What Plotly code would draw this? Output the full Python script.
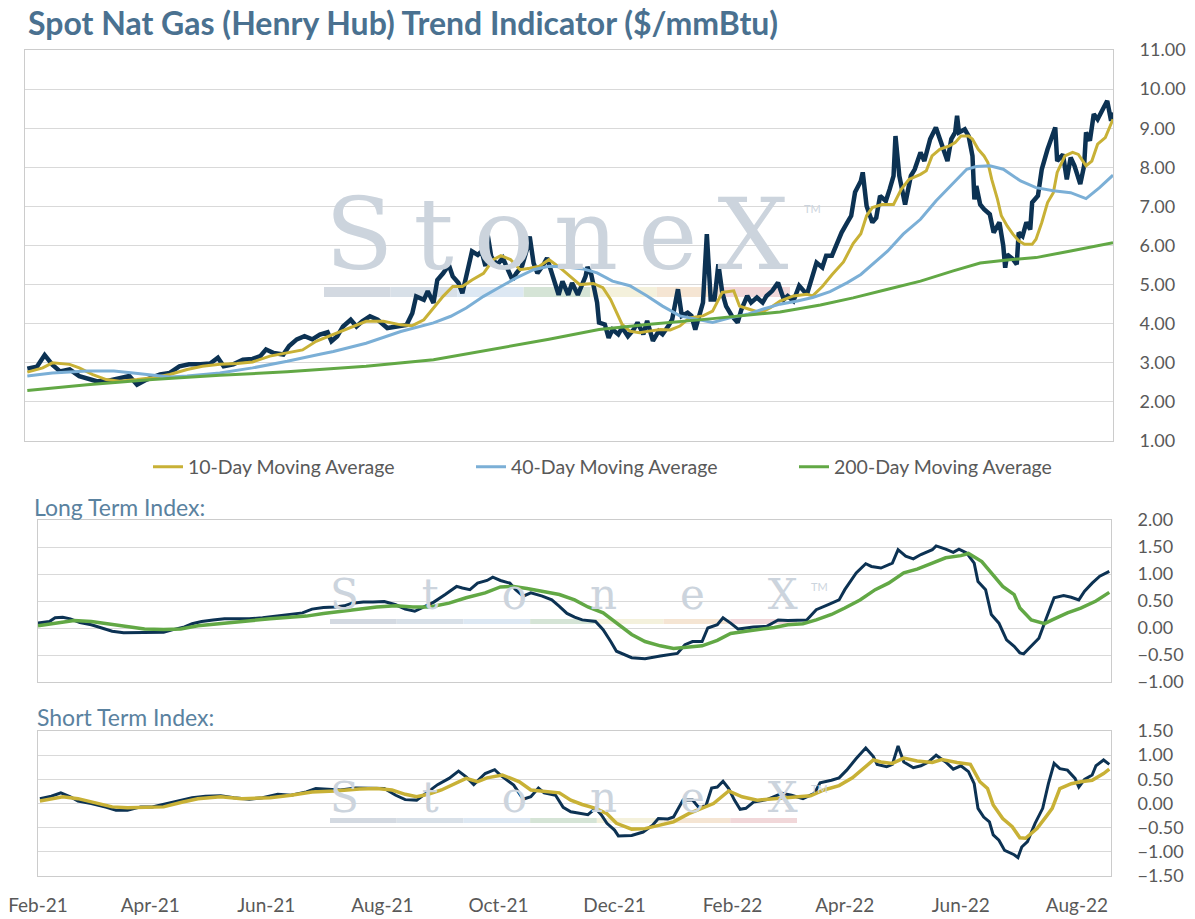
import pandas as pd
import plotly.graph_objects as go

# all x values are days counted from 1 Feb 2021
START = pd.Timestamp("2021-02-01")

tick_dates = ["2021-02-01", "2021-04-01", "2021-06-01", "2021-08-01", "2021-10-01",
              "2021-12-01", "2022-02-01", "2022-04-01", "2022-06-01", "2022-08-01"]
tick_labels = ["Feb-21", "Apr-21", "Jun-21", "Aug-21", "Oct-21",
               "Dec-21", "Feb-22", "Apr-22", "Jun-22", "Aug-22"]

# Spot Henry Hub price ($/mmBtu)
spot_days = [-5, 0, 4, 8, 12, 17, 22, 28, 31, 36,
             43, 48, 52, 57, 64, 69, 74, 79, 85, 90,
             94, 97, 102, 107, 112, 116, 119, 123, 128, 131,
             135, 139, 143, 147, 151, 153, 156, 159, 163, 166,
             169, 173, 177, 182, 187, 192, 195, 197, 201, 203,
             206, 208, 211, 214, 216, 219, 221, 224, 226, 229,
             231, 233, 234, 236, 239, 242, 244, 247, 249, 252,
             255, 256, 258, 260, 263, 265, 268, 271, 273, 276,
             278, 281, 285, 286, 288, 291, 292, 295, 297, 299,
             302, 304, 307, 310, 312, 315, 317, 320, 323, 325,
             328, 330, 333, 335, 338, 340, 342, 344, 346, 348,
             350, 352, 354, 356, 358, 361, 364, 366, 369, 371,
             374, 377, 379, 382, 385, 388, 390, 393, 396, 400,
             403, 405, 408, 410, 413, 416, 418, 421, 423, 425,
             428, 429, 431, 434, 436, 438, 441, 443, 445, 446,
             448, 451, 454, 456, 459, 461, 464, 467, 469, 472,
             473, 475, 477, 478, 479, 482, 484, 486, 487, 488,
             490, 492, 495, 497, 499, 500, 502, 503, 504, 507,
             509, 510, 512, 514, 516, 517, 520, 522, 525, 527,
             529, 530, 533, 535, 537, 539, 542, 544, 545, 547,
             549, 551, 554, 556, 558, 559]
spot_price = [2.85, 2.90, 3.20, 2.95, 2.78, 2.83, 2.66, 2.57, 2.53, 2.53,
              2.59, 2.66, 2.44, 2.57, 2.70, 2.74, 2.91, 2.96, 2.96, 2.98,
              3.13, 2.91, 2.96, 3.08, 3.10, 3.17, 3.34, 3.25, 3.21, 3.43,
              3.60, 3.68, 3.60, 3.72, 3.78, 3.55, 3.68, 3.93, 4.10, 3.93,
              4.06, 4.19, 4.10, 3.89, 3.93, 3.97, 4.27, 4.70, 4.61, 4.83,
              4.53, 5.12, 5.29, 5.50, 5.21, 5.04, 4.78, 5.38, 5.85, 5.76,
              5.85, 5.47, 6.32, 5.72, 5.50, 5.68, 5.47, 5.12, 5.29, 5.47,
              5.98, 6.23, 5.55, 5.29, 5.50, 5.68, 5.21, 4.74, 5.08, 4.74,
              5.04, 4.74, 5.21, 5.45, 5.25, 4.54, 4.03, 3.98, 3.64, 3.85,
              3.73, 3.90, 3.68, 3.85, 4.03, 3.73, 4.07, 3.56, 3.81, 3.73,
              3.94, 4.11, 4.88, 4.20, 4.28, 4.20, 3.85, 4.20, 4.54, 6.29,
              4.62, 4.62, 5.52, 4.80, 4.45, 4.20, 4.03, 4.37, 4.71, 4.54,
              4.67, 4.54, 4.71, 4.84, 5.05, 4.62, 4.71, 4.58, 4.97, 4.75,
              5.22, 5.56, 5.44, 5.74, 5.74, 6.08, 6.33, 6.59, 6.76, 7.36,
              7.65, 7.87, 7.01, 6.59, 6.71, 7.27, 7.14, 7.44, 7.78, 8.80,
              7.78, 7.05, 7.78, 7.95, 8.38, 8.16, 8.72, 9.02, 8.72, 8.33,
              8.16, 8.72, 8.89, 9.32, 8.89, 8.97, 8.80, 8.29, 7.18, 7.52,
              7.05, 6.93, 6.80, 6.33, 6.50, 6.59, 5.99, 5.43, 5.77, 5.65,
              5.52, 6.33, 6.24, 6.59, 6.41, 7.10, 7.27, 7.95, 8.46, 8.72,
              9.02, 8.16, 8.33, 7.69, 8.25, 8.04, 7.57, 8.04, 8.89, 8.68,
              9.36, 9.23, 9.49, 9.70, 9.19, 9.40]

ma10_days = [-5, 3, 8, 17, 22, 29, 36, 43, 52, 60,
             69, 78, 86, 95, 104, 112, 121, 130, 138, 145,
             154, 163, 171, 180, 189, 195, 201, 206, 211, 216,
             221, 226, 232, 237, 241, 246, 251, 256, 261, 266,
             272, 277, 282, 289, 294, 298, 301, 304, 308, 313,
             318, 324, 329, 334, 339, 346, 351, 356, 362, 365,
             370, 376, 381, 386, 393, 400, 403, 408, 413, 419,
             424, 428, 431, 434, 439, 445, 449, 453, 459, 462,
             465, 469, 474, 477, 480, 484, 486, 489, 492, 494,
             496, 499, 501, 504, 507, 510, 513, 517, 519, 522,
             525, 528, 530, 534, 538, 541, 545, 548, 551, 555,
             559]
ma10 = [2.76, 2.87, 3.00, 2.96, 2.87, 2.70, 2.57, 2.53, 2.57, 2.62,
        2.70, 2.83, 2.91, 2.96, 2.98, 3.02, 3.17, 3.25, 3.33, 3.55,
        3.72, 3.89, 4.06, 4.06, 3.97, 3.95, 4.10, 4.40, 4.70, 4.95,
        4.95, 5.12, 5.29, 5.64, 5.74, 5.64, 5.38, 5.42, 5.47, 5.64,
        5.42, 5.21, 5.00, 5.03, 4.92, 4.62, 4.28, 3.98, 3.81, 3.77,
        3.81, 3.85, 3.84, 3.94, 4.15, 4.20, 4.32, 4.80, 4.84, 4.45,
        4.37, 4.28, 4.41, 4.58, 4.71, 4.75, 4.71, 4.95, 5.25, 5.58,
        6.05, 6.30, 6.76, 6.97, 7.05, 7.05, 7.44, 7.69, 7.82, 7.91,
        8.29, 8.46, 8.55, 8.63, 8.80, 8.80, 8.72, 8.46, 8.29, 8.12,
        7.69, 7.18, 6.76, 6.50, 6.29, 6.12, 6.03, 6.03, 6.16, 6.59,
        7.10, 7.35, 7.87, 8.29, 8.38, 8.33, 8.04, 8.16, 8.59, 8.76,
        9.23]

ma40_days = [-5, 8, 26, 40, 50, 60, 69, 78, 95, 112,
             130, 147, 154, 171, 189, 206, 215, 223, 232, 241,
             249, 258, 266, 275, 284, 291, 299, 308, 317, 325,
             334, 343, 351, 360, 369, 377, 386, 395, 403, 412,
             421, 428, 433, 442, 450, 459, 467, 476, 483, 488,
             495, 502, 511, 519, 528, 537, 545, 552, 559]
ma40 = [2.66, 2.74, 2.79, 2.79, 2.74, 2.68, 2.64, 2.66, 2.74, 2.87,
        3.04, 3.22, 3.29, 3.50, 3.80, 4.02, 4.19, 4.40, 4.70, 4.95,
        5.17, 5.38, 5.47, 5.45, 5.40, 5.30, 5.09, 4.97, 4.71, 4.45,
        4.20, 4.11, 4.03, 4.15, 4.24, 4.37, 4.50, 4.58, 4.67, 4.82,
        5.05, 5.26, 5.47, 5.86, 6.29, 6.67, 7.14, 7.61, 7.95, 8.02,
        8.04, 7.95, 7.65, 7.48, 7.40, 7.35, 7.20, 7.48, 7.80]

ma200_days = [-5, 26, 60, 95, 130, 171, 206, 241, 266, 292,
              317, 351, 386, 407, 424, 442, 459, 476, 490, 504,
              519, 537, 559]
ma200 = [2.29, 2.44, 2.57, 2.68, 2.77, 2.91, 3.08, 3.38, 3.60, 3.85,
         3.98, 4.13, 4.30, 4.48, 4.66, 4.88, 5.09, 5.35, 5.55, 5.63,
         5.69, 5.86, 6.07]

# Long Term Index
lt_days = [0, 6, 9, 13, 17, 22, 28, 34, 39, 45,
           51, 56, 62, 66, 71, 77, 81, 86, 92, 98,
           103, 111, 118, 126, 133, 139, 144, 150, 156, 161,
           165, 171, 176, 182, 188, 193, 198, 203, 208, 214,
           220, 223, 227, 231, 236, 239, 243, 248, 251, 255,
           259, 265, 270, 274, 278, 282, 286, 293, 297, 301,
           304, 312, 319, 327, 336, 340, 344, 349, 352, 357,
           360, 364, 368, 376, 383, 389, 394, 404, 409, 415,
           421, 424, 430, 435, 438, 443, 449, 452, 456, 460,
           464, 470, 472, 477, 481, 484, 488, 492, 494, 498,
           501, 505, 509, 513, 516, 518, 522, 526, 530, 534,
           539, 543, 547, 550, 554, 558, 563]
lt_index = [0.09, 0.12, 0.19, 0.20, 0.17, 0.10, 0.06, 0.00, -0.06, -0.09,
            -0.09, -0.08, -0.09, -0.08, -0.03, 0.02, 0.08, 0.12, 0.15, 0.17,
            0.17, 0.17, 0.19, 0.22, 0.25, 0.28, 0.35, 0.38, 0.39, 0.41,
            0.46, 0.48, 0.48, 0.49, 0.43, 0.35, 0.31, 0.39, 0.48, 0.62,
            0.77, 0.74, 0.71, 0.83, 0.88, 0.94, 0.88, 0.83, 0.71, 0.59,
            0.65, 0.59, 0.52, 0.40, 0.27, 0.20, 0.15, 0.12, -0.03, -0.25,
            -0.43, -0.55, -0.57, -0.52, -0.47, -0.31, -0.25, -0.25, 0.00, 0.06,
            0.19, 0.09, -0.02, 0.02, 0.03, 0.15, 0.14, 0.15, 0.34, 0.43,
            0.52, 0.71, 1.02, 1.19, 1.14, 1.11, 1.20, 1.45, 1.33, 1.28,
            1.36, 1.45, 1.52, 1.46, 1.40, 1.46, 1.39, 1.20, 0.86, 0.71,
            0.25, 0.09, -0.22, -0.34, -0.46, -0.48, -0.34, -0.19, 0.19, 0.56,
            0.60, 0.57, 0.52, 0.68, 0.83, 0.96, 1.05]

lt_avg_days = [0, 9, 19, 28, 37, 47, 56, 66, 75, 84,
               94, 103, 113, 122, 131, 141, 150, 159, 169, 178,
               188, 197, 206, 216, 225, 235, 243, 250, 257, 266,
               274, 282, 289, 297, 304, 312, 319, 327, 334, 342,
               349, 357, 364, 372, 379, 387, 394, 402, 409, 417,
               424, 432, 440, 447, 455, 462, 470, 477, 485, 489,
               496, 501, 507, 513, 516, 522, 529, 533, 541, 548,
               556, 563]
lt_avg = [0.04, 0.09, 0.14, 0.12, 0.08, 0.02, -0.02, -0.03, -0.02, 0.04,
          0.08, 0.11, 0.14, 0.17, 0.19, 0.22, 0.27, 0.31, 0.35, 0.39,
          0.41, 0.39, 0.39, 0.46, 0.56, 0.65, 0.76, 0.77, 0.73, 0.68,
          0.62, 0.52, 0.39, 0.28, 0.09, -0.12, -0.25, -0.33, -0.38, -0.36,
          -0.33, -0.23, -0.10, -0.06, -0.03, 0.01, 0.06, 0.08, 0.15, 0.25,
          0.37, 0.52, 0.71, 0.83, 1.02, 1.09, 1.20, 1.30, 1.34, 1.38,
          1.23, 1.02, 0.77, 0.62, 0.37, 0.15, 0.08, 0.15, 0.28, 0.37,
          0.50, 0.66]

# Short Term Index
st_days = [1, 7, 12, 17, 21, 28, 36, 41, 47, 54,
           60, 66, 73, 81, 88, 96, 103, 111, 118, 126,
           133, 141, 146, 154, 159, 167, 175, 182, 188, 193,
           199, 205, 210, 216, 221, 225, 229, 235, 240, 243,
           250, 255, 259, 263, 266, 272, 276, 280, 286, 289,
           293, 296, 299, 303, 305, 312, 318, 323, 326, 331,
           334, 339, 344, 347, 351, 354, 357, 360, 363, 366,
           369, 372, 376, 383, 391, 396, 402, 408, 411, 417,
           421, 425, 430, 435, 439, 441, 446, 449, 452, 455,
           460, 464, 468, 472, 477, 481, 485, 489, 492, 494,
           497, 500, 502, 505, 508, 513, 515, 517, 520, 524,
           528, 531, 534, 537, 541, 545, 547, 550, 554, 556,
           560, 563]
st_index = [0.10, 0.15, 0.22, 0.14, 0.05, 0.00, -0.08, -0.14, -0.14, -0.07,
            -0.07, -0.02, 0.05, 0.12, 0.15, 0.16, 0.12, 0.09, 0.12, 0.19,
            0.17, 0.24, 0.31, 0.29, 0.28, 0.32, 0.31, 0.31, 0.17, 0.08,
            0.07, 0.24, 0.39, 0.52, 0.67, 0.55, 0.39, 0.62, 0.70, 0.59,
            0.38, 0.09, 0.14, 0.32, 0.22, 0.17, -0.08, -0.17, -0.22, -0.23,
            -0.10, -0.23, -0.41, -0.55, -0.67, -0.66, -0.59, -0.45, -0.31, -0.32,
            -0.28, 0.07, 0.07, -0.07, -0.05, 0.32, 0.34, 0.46, 0.31, 0.07,
            -0.12, -0.10, 0.03, 0.08, 0.21, 0.17, 0.10, 0.21, 0.43, 0.48,
            0.53, 0.69, 0.93, 1.15, 0.97, 0.81, 0.76, 0.81, 1.19, 0.86,
            0.74, 0.78, 0.86, 1.00, 0.86, 0.71, 0.78, 0.66, 0.41, -0.10,
            -0.28, -0.38, -0.65, -0.76, -0.97, -1.06, -1.12, -0.90, -0.79, -0.41,
            -0.10, 0.41, 0.83, 0.72, 0.69, 0.52, 0.34, 0.50, 0.59, 0.78,
            0.90, 0.81]

st_avg_days = [1, 13, 21, 28, 39, 47, 56, 66, 75, 84,
               96, 107, 122, 133, 144, 156, 169, 178, 186, 193,
               199, 205, 212, 220, 225, 231, 236, 244, 253, 259,
               266, 274, 280, 286, 293, 299, 304, 312, 319, 327,
               334, 342, 349, 355, 363, 370, 378, 387, 396, 406,
               413, 421, 428, 434, 439, 443, 449, 455, 462, 470,
               475, 483, 490, 495, 499, 502, 507, 512, 516, 519,
               525, 530, 533, 537, 543, 548, 554, 560, 563]
st_avg = [0.05, 0.14, 0.10, 0.03, -0.07, -0.09, -0.08, -0.07, 0.02, 0.10,
          0.14, 0.10, 0.12, 0.17, 0.24, 0.26, 0.30, 0.31, 0.28, 0.19,
          0.14, 0.19, 0.28, 0.43, 0.52, 0.45, 0.53, 0.59, 0.45, 0.28,
          0.26, 0.22, 0.07, -0.02, -0.10, -0.21, -0.41, -0.53, -0.52, -0.45,
          -0.38, -0.21, -0.10, 0.00, 0.26, 0.14, 0.07, 0.10, 0.14, 0.16,
          0.28, 0.37, 0.53, 0.74, 0.90, 0.86, 0.83, 0.94, 0.88, 0.85,
          0.91, 0.85, 0.81, 0.45, 0.31, -0.03, -0.31, -0.48, -0.71, -0.72,
          -0.52, -0.26, -0.10, 0.31, 0.41, 0.45, 0.48, 0.62, 0.71]

NAVY = "#0c3253"
GOLD = "#c8b136"
BLUE = "#7bafd6"
GREEN = "#62a845"
FONT = "Lato, sans-serif"
TXT = "#595959"
W, H = 1195, 919


def to_dates(days):
    return START + pd.to_timedelta(days, unit="D")


fig = go.Figure()

# top panel
fig.add_trace(go.Scatter(x=to_dates(spot_days), y=spot_price, mode="lines", name="Spot",
                         line=dict(color=NAVY, width=4.5), showlegend=False, xaxis="x", yaxis="y"))
fig.add_trace(go.Scatter(x=to_dates(ma10_days), y=ma10, mode="lines", name="10-Day Moving Average",
                         line=dict(color=GOLD, width=3), xaxis="x", yaxis="y"))
fig.add_trace(go.Scatter(x=to_dates(ma40_days), y=ma40, mode="lines", name="40-Day Moving Average",
                         line=dict(color=BLUE, width=3), xaxis="x", yaxis="y"))
fig.add_trace(go.Scatter(x=to_dates(ma200_days), y=ma200, mode="lines", name="200-Day Moving Average",
                         line=dict(color=GREEN, width=3), xaxis="x", yaxis="y"))

# long term panel
fig.add_trace(go.Scatter(x=to_dates(lt_days), y=lt_index, mode="lines", showlegend=False,
                         line=dict(color=NAVY, width=3), xaxis="x2", yaxis="y2"))
fig.add_trace(go.Scatter(x=to_dates(lt_avg_days), y=lt_avg, mode="lines", showlegend=False,
                         line=dict(color=GREEN, width=3.5), xaxis="x2", yaxis="y2"))

# short term panel
fig.add_trace(go.Scatter(x=to_dates(st_days), y=st_index, mode="lines", showlegend=False,
                         line=dict(color=NAVY, width=3), xaxis="x3", yaxis="y3"))
fig.add_trace(go.Scatter(x=to_dates(st_avg_days), y=st_avg, mode="lines", showlegend=False,
                         line=dict(color=GOLD, width=3.5), xaxis="x3", yaxis="y3"))

frame = dict(showline=True, mirror=True, linecolor="#cccccc", linewidth=1, zeroline=False)
yfmt = dict(side="right", tickformat=".2f", gridcolor="#d9d9d9", gridwidth=1, ticks="",
            tickfont=dict(family=FONT, size=18, color=TXT), ticklabelstandoff=22, **frame)
low_range = [to_dates(0), to_dates(563.9)]

fig.update_layout(
    width=W, height=H,
    template="none",
    margin=dict(l=0, r=0, t=0, b=0),
    paper_bgcolor="white", plot_bgcolor="white",
    xaxis=dict(domain=[25 / W, 1113 / W], anchor="y", range=[to_dates(-6.2), to_dates(559)],
               showticklabels=False, showgrid=False, ticks="", **frame),
    yaxis=dict(domain=[1 - 441 / H, 1 - 50 / H], anchor="x", range=[1, 11], dtick=1, **yfmt),
    xaxis2=dict(domain=[38 / W, 1111 / W], anchor="y2", range=low_range,
                showticklabels=False, showgrid=False, ticks="", **frame),
    yaxis2=dict(domain=[1 - 682 / H, 1 - 520 / H], anchor="x2", range=[-1, 2], dtick=0.5, **yfmt),
    xaxis3=dict(domain=[38 / W, 1111 / W], anchor="y3", range=low_range,
                tickvals=tick_dates, ticktext=tick_labels, showgrid=False, ticks="",
                tickfont=dict(family=FONT, size=19, color=TXT), ticklabelstandoff=12, **frame),
    xaxis4=dict(overlaying="x3", anchor="y3", side="top", range=low_range,
                tickvals=tick_dates, showticklabels=False, showgrid=False, showline=False,
                ticks="inside", ticklen=6, tickcolor="#cccccc", zeroline=False),
    yaxis3=dict(domain=[1 - 876 / H, 1 - 731 / H], anchor="x3", range=[-1.5, 1.5], dtick=0.5, **yfmt),
    legend=dict(orientation="h", x=148 / W, xanchor="left", y=1 - 467 / H, yanchor="middle",
                entrywidth=278, entrywidthmode="pixels", bgcolor="rgba(0,0,0,0)",
                font=dict(family=FONT, size=19.5, color=TXT)),
)

# titles
fig.add_annotation(x=26 / W, y=1 - 22 / H, xref="paper", yref="paper", xanchor="left", yanchor="middle",
                   text="<b>Spot Nat Gas (Henry Hub) Trend Indicator ($/mmBtu)</b>", showarrow=False,
                   font=dict(family=FONT, size=32, color="#4a7190"))
fig.add_annotation(x=32 / W, y=1 - 507 / H, xref="paper", yref="paper", xanchor="left", yanchor="middle",
                   text="Long Term Index:", showarrow=False, font=dict(family=FONT, size=23, color="#5a82a0"))
fig.add_annotation(x=35 / W, y=1 - 717 / H, xref="paper", yref="paper", xanchor="left", yanchor="middle",
                   text="Short Term Index:", showarrow=False, font=dict(family=FONT, size=23, color="#5a82a0"))

# faint StoneX watermark in each panel
WM = "#ccd4dd"
bar_colors = ["#d3d9e1", "#d8e0e8", "#dde8f3", "#d5e4d6", "#f4f1dc", "#f5e5d3", "#f1d7d9"]
marks = [  # text centre y, font size, letter gap, tm y, bar top, bar bottom, bar left, bar right
    (234, 100, "\u2009", 208, 287, 297, 324, 790),
    (594, 42, "\u2003\u2002", 586, 619, 624, 330, 797),
    (797, 42, "\u2003\u2002", 788, 818, 823, 330, 797),
]
for cy, size, gap, tmy, b0, b1, left, right in marks:
    fig.add_annotation(x=(left + right) / 2 / W, y=1 - cy / H, xref="paper", yref="paper",
                       xanchor="center", yanchor="middle",
                       text=gap.join("StoneX"), showarrow=False,
                       font=dict(family="DejaVu Serif", size=size, color=WM))
    fig.add_annotation(x=(right + 12) / W, y=1 - tmy / H, xref="paper", yref="paper",
                       xanchor="left", yanchor="middle",
                       text="TM", showarrow=False, font=dict(family=FONT, size=11, color=WM))
    step = (right - left) / len(bar_colors)
    for i, c in enumerate(bar_colors):
        fig.add_shape(type="rect", xref="paper", yref="paper", layer="below", line_width=0, fillcolor=c,
                      x0=(left + i * step) / W, x1=(left + (i + 1) * step) / W, y0=1 - b1 / H, y1=1 - b0 / H)

# the page body has a default margin; drop it so the figure fills the window exactly
fig.write_html("out.html", config={"displayModeBar": False},
               post_script="document.body.style.margin='0px';")
